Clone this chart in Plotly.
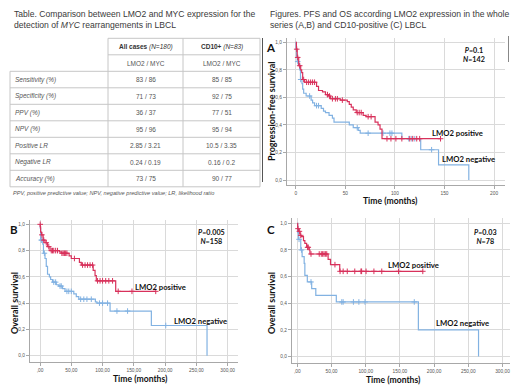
import plotly.graph_objects as go

W, H = 520, 390

# ---------------- Table data ----------------
table_title = ["Table. Comparison between LMO2 and MYC expression for the",
               "detection of <i>MYC</i> rearrangements in LBCL"]
col_headers = ["<b>All cases</b> <i>(N=180)</i>", "<b>CD10+</b> <i>(N=83)</i>"]
sub_headers = ["LMO2 / MYC", "LMO2 / MYC"]
row_labels = ["Sensitivity (%)", "Specificity (%)", "PPV (%)", "NPV (%)",
              "Positive LR", "Negative LR", "Accuracy (%)"]
all_cases = ["83 / 86", "71 / 73", "36 / 37", "95 / 96", "2.85 / 3.21", "0.24 / 0.19", "73 / 75"]
cd10_pos = ["85 / 85", "92 / 75", "77 / 51", "95 / 94", "10.5 / 3.35", "0.16 / 0.2", "90 / 77"]
footnote = "PPV, positive predictive value; NPV, negative predictive value; LR, likelihood ratio"

fig_title = ["Figures. PFS and OS according LMO2 expression in the whole",
             "series (A,B) and CD10-positive (C) LBCL"]

# ---------------- KM data ----------------
# Panel A: progression-free survival
A_pos_t = [0, 0.7, 1.5, 3, 5, 6, 7, 9, 21, 23, 27, 30, 33, 35, 45, 52, 54, 56, 58, 61, 68, 71, 80, 83, 85, 87, 146]
A_pos_s = [1.0, 0.95, 0.89, 0.83, 0.80, 0.78, 0.73, 0.71, 0.68, 0.65, 0.64, 0.62, 0.61, 0.59, 0.58, 0.57, 0.55,
           0.53, 0.51, 0.49, 0.47, 0.46, 0.42, 0.40, 0.37, 0.30, 0.30]
A_pos_c = [1, 2, 4, 8, 11, 13, 15, 17, 19, 32, 34, 37, 40, 42, 47, 62, 64, 66, 73, 76, 92, 96, 101,
           107, 115, 118, 122, 125, 146]
A_neg_t = [0, 0.3, 0.8, 1.5, 3, 4, 4.8, 6.3, 7, 8, 10.5, 15.5, 17, 19, 25.7, 28, 30, 33.6, 37, 38.6, 54, 58,
           63, 65, 107, 126, 144, 174.5]
A_neg_s = [1.0, 0.95, 0.90, 0.86, 0.84, 0.80, 0.73, 0.70, 0.66, 0.63, 0.61, 0.58, 0.56, 0.54, 0.52, 0.50, 0.49,
           0.47, 0.45, 0.42, 0.40, 0.38, 0.36, 0.34, 0.30, 0.22, 0.11, 0.0]
A_neg_c = [2, 5, 14, 21, 23, 62, 73, 88, 95, 97, 114, 117, 120, 137]

# Panel B: overall survival, whole series
B_pos_t = [0, 0.5, 1, 2.5, 5, 8, 12, 16, 31, 34, 46.5, 50, 63, 66, 85, 88, 90, 121, 185]
B_pos_s = [1.0, 0.98, 0.94, 0.92, 0.88, 0.86, 0.83, 0.80, 0.79, 0.78, 0.76, 0.74, 0.71, 0.69, 0.65, 0.61,
           0.57, 0.49, 0.49]
B_pos_c = [0.3, 3, 6, 10, 14, 18, 20, 22, 25, 28, 35, 37, 39, 41, 43, 55, 68, 72, 76, 80, 84, 92, 96, 100,
           105, 110, 116, 125, 147, 185]
B_neg_t = [0, 0.5, 1, 4.5, 5.5, 8, 10, 12, 15, 17, 20, 26, 30, 36, 40, 54, 58, 62, 88.5, 91, 112, 178, 267]
B_neg_s = [1.0, 0.97, 0.88, 0.85, 0.78, 0.74, 0.68, 0.62, 0.60, 0.58, 0.56, 0.54, 0.53, 0.51, 0.49, 0.47,
           0.45, 0.43, 0.41, 0.40, 0.34, 0.23, 0.0]
B_neg_c = [2, 3, 7, 22, 25, 32, 34, 43, 46, 50, 65, 70, 75, 82, 95, 100, 108, 123, 140, 201]

# Panel C: overall survival, CD10-positive
C_pos_t = [0, 0.5, 1.5, 4, 6, 9, 11, 13.6, 17.5, 18.4, 45, 48.5, 62, 183.5]
C_pos_s = [1.0, 0.96, 0.94, 0.91, 0.90, 0.87, 0.85, 0.82, 0.80, 0.77, 0.73, 0.69, 0.64, 0.64]
C_pos_c = [1, 3, 5, 15, 16, 20, 32, 35, 37, 39, 41, 43, 55, 62.5, 67, 73, 84, 93, 94, 100.5, 112, 123.5,
           148, 183.5]
C_neg_t = [0, 0.5, 1.5, 5, 7, 10, 11, 14.6, 21, 27, 57, 177, 265]
C_neg_s = [1.0, 0.93, 0.88, 0.80, 0.75, 0.70, 0.61, 0.56, 0.51, 0.46, 0.41, 0.20, 0.0]
C_neg_c = [2.5, 6, 20, 65, 67, 82, 90, 99, 171]

y_ticks = [0, 0.2, 0.4, 0.6, 0.8, 1.0]
y_ticktext = ["0,0", "0,2", "0,4", "0,6", "0,8", "1,0"]
xA_ticks = [0, 50, 100, 150, 200]
xA_ticktext = ["0", "50", "100", "150", "200"]
xOS_ticks = [0, 50, 100, 150, 200, 250, 300]
xOS_ticktext = [",00", "50,00", "100,00", "150,00", "200,00", "250,00", "300,00"]

RED = "#d8315b"
BLUE = "#82b2e2"
GRID = "#dadada"
TXT = "#3a3a3a"


def px(x):
    return x / W


def py(y):
    return 1 - y / H


def step_value(ts, ss, c):
    v = ss[0]
    for t, s in zip(ts, ss):
        if t <= c:
            v = s
    return v


def note(x, y, text, font, xanchor="center", **kw):
    return dict(xref="paper", yref="paper", x=px(x), y=py(y), text=text, showarrow=False,
                xanchor=xanchor, yanchor="middle", font=font, **kw)


fig = go.Figure()
annotations = []
shapes = []

# ---------------- Table ----------------
FONT_T = "Liberation Sans, Arial, sans-serif"
title_font = dict(family=FONT_T, size=8.6, color=TXT)
annotations.append(note(12, 14, table_title[0], title_font, "left"))
annotations.append(note(12, 24.5, table_title[1], title_font, "left"))

x_cols = [10, 108, 183, 260]
row_top = 38.3
row_h = 16.5
n_rows = 2 + len(row_labels)
LINE = dict(color="#c6c6c6", width=1)
for i in range(n_rows + 1):
    yy = row_top + i * row_h
    x0 = x_cols[1] if i < 2 else x_cols[0]
    shapes.append(dict(type="line", xref="paper", yref="paper", x0=px(x0), x1=px(x_cols[3]),
                       y0=py(yy), y1=py(yy), line=LINE))
for j, xx in enumerate(x_cols):
    y0 = row_top + 2 * row_h if j == 0 else row_top
    shapes.append(dict(type="line", xref="paper", yref="paper", x0=px(xx), x1=px(xx),
                       y0=py(y0), y1=py(row_top + n_rows * row_h), line=LINE))

cell_font = dict(family=FONT_T, size=6.5, color="#555555")
col_centers = [(x_cols[1] + x_cols[2]) / 2, (x_cols[2] + x_cols[3]) / 2]
for k in range(2):
    annotations.append(note(col_centers[k], row_top + 0.5 * row_h, col_headers[k],
                            dict(family=FONT_T, size=6.5, color="#333333")))
    annotations.append(note(col_centers[k], row_top + 1.5 * row_h, sub_headers[k], cell_font))
for i, lab in enumerate(row_labels):
    yc = row_top + (i + 2.5) * row_h
    annotations.append(note(13, yc, "<i>" + lab + "</i>", cell_font, "left"))
    annotations.append(note(col_centers[0], yc, all_cases[i], cell_font))
    annotations.append(note(col_centers[1], yc, cd10_pos[i], cell_font))
annotations.append(note(11, 193, "<i>" + footnote + "</i>",
                        dict(family=FONT_T, size=5.6, color="#555555"), "left"))

annotations.append(note(268, 14, fig_title[0], title_font, "left"))
annotations.append(note(268, 24.5, fig_title[1], title_font, "left"))

# thin frame edges visible in the reference around panel A
shapes.append(dict(type="line", xref="paper", yref="paper", x0=px(262.5), x1=px(262.5),
                   y0=py(38), y1=py(182), line=dict(color="#555555", width=1)))
shapes.append(dict(type="line", xref="paper", yref="paper", x0=px(508.5), x1=px(508.5),
                   y0=py(36), y1=py(62), line=dict(color="#888888", width=1)))

# ---------------- KM panels ----------------
FONT_K = "Lato, Open Sans, sans-serif"
panels = [
    dict(ax="", box=(287, 505, 38.3, 185), xr=[-8.8, 211], yr=[-0.036, 1.029],
         xt=xA_ticks, xtt=xA_ticktext,
         curves=[(A_neg_t, A_neg_s, A_neg_c, BLUE), (A_pos_t, A_pos_s, A_pos_c, RED)],
         letter="A", lx=271, ly=47, ylab="Progression-free survival", ylx=271, yly=111,
         stat="<b><i>P</i>=0.1<br><i>N</i>=142</b>", sx=474, sy=55,
         pos=(457, 133), neg=(468, 159), xlab=(390, 201)),
    dict(ax="2", box=(30, 238, 220, 362), xr=[-16, 316.5], yr=[-0.048, 1.033],
         xt=xOS_ticks, xtt=xOS_ticktext,
         curves=[(B_neg_t, B_neg_s, B_neg_c, BLUE), (B_pos_t, B_pos_s, B_pos_c, RED)],
         letter="B", lx=14, ly=229, ylab="Overall survival", ylx=14, yly=303,
         stat="<b><i>P</i>=0.005<br><i>N</i>=158</b>", sx=211, sy=237,
         pos=(160, 287), neg=(200, 321), xlab=(140, 379)),
    dict(ax="3", box=(292, 510, 218, 363), xr=[-7.8, 311], yr=[-0.048, 1.04],
         xt=xOS_ticks, xtt=xOS_ticktext,
         curves=[(C_neg_t, C_neg_s, C_neg_c, BLUE), (C_pos_t, C_pos_s, C_pos_c, RED)],
         letter="C", lx=271, ly=229, ylab="Overall survival", ylx=271, yly=303,
         stat="<b><i>P</i>=0.03<br><i>N</i>=78</b>", sx=485, sy=237,
         pos=(413, 265), neg=(462, 323), xlab=(393, 380)),
]

layout_axes = {}
for p in panels:
    l, r, t, b = p["box"]
    xa = "x" + p["ax"]
    ya = "y" + p["ax"]
    for ts, ss, cs, col in p["curves"]:
        fig.add_trace(go.Scatter(x=ts, y=ss, mode="lines", line=dict(color=col, width=1.2, shape="hv"),
                                 xaxis=xa, yaxis=ya, showlegend=False, hoverinfo="skip"))
        fig.add_trace(go.Scatter(x=cs, y=[step_value(ts, ss, c) for c in cs], mode="markers",
                                 marker=dict(symbol="cross-thin", size=4, line=dict(color=col, width=1)),
                                 xaxis=xa, yaxis=ya, showlegend=False, hoverinfo="skip"))
    common = dict(showgrid=True, gridcolor=GRID, gridwidth=1.3, zeroline=False, showline=True,
                  linecolor="#a8a8a8", linewidth=1, ticks="outside", ticklen=3, tickcolor="#a8a8a8",
                  tickfont=dict(family=FONT_T, size=4.8, color="#555555"), fixedrange=True)
    layout_axes["xaxis" + p["ax"]] = dict(domain=[px(l), px(r)], range=p["xr"], anchor=ya,
                                          tickvals=p["xt"], ticktext=p["xtt"], **common)
    layout_axes["yaxis" + p["ax"]] = dict(domain=[py(b), py(t)], range=p["yr"], anchor=xa,
                                          tickvals=y_ticks, ticktext=y_ticktext, **common)
    kfont = lambda s: dict(family=FONT_K, size=s, color="#111111")
    annotations.append(note(p["lx"], p["ly"], "<b>" + p["letter"] + "</b>", kfont(11.5)))
    annotations.append(note(p["ylx"], p["yly"], "<b>" + p["ylab"] + "</b>", kfont(9.0), textangle=-90))
    annotations.append(note(p["xlab"][0], p["xlab"][1], "<b>Time (months)</b>", kfont(8.6)))
    annotations.append(note(p["sx"], p["sy"], p["stat"], kfont(7.2), align="center"))
    annotations.append(note(p["pos"][0], p["pos"][1], "<b>LMO2 positive</b>", kfont(7.7)))
    annotations.append(note(p["neg"][0], p["neg"][1], "<b>LMO2 negative</b>", kfont(7.7)))

fig.update_layout(width=W, height=H, margin=dict(l=0, r=0, t=0, b=0), autosize=False,
                  paper_bgcolor="white", plot_bgcolor="white", annotations=annotations, shapes=shapes,
                  **layout_axes)

fig.write_html("out.html", config={"displayModeBar": False},
               post_script="document.body.style.margin='0';document.body.style.overflow='hidden';")
